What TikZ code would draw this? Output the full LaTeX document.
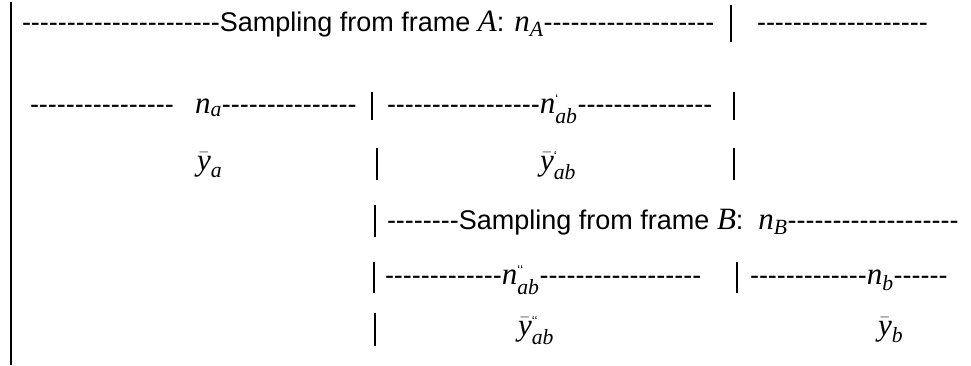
\documentclass[tikz,border=0pt]{standalone}
\usepackage{amsmath}
\usepackage{fontspec}
\setmainfont{Liberation Sans}
\newfontfamily\mvar{Liberation Serif}
\usepackage{tikz}
\usetikzlibrary{positioning}
\newcommand{\hyph}[1]{\foreach\k in {1,...,#1}{-\kern0pt}}
\newcommand{\iv}[1]{\text{\mvar\itshape #1}}
\newcommand{\mth}[1]{{\fontsize{31}{36}\selectfont$#1$}}
\newcommand{\tick}{\mbox{\fontsize{13}{13}\selectfont`}}
\newcommand{\ticks}{\mbox{\fontsize{13}{13}\selectfont`\kern0pt`}}
\tikzset{
  txt/.style={anchor=base west, inner sep=0pt, outer sep=0pt, font=\fontsize{27}{32}\selectfont},
  next/.style={txt, anchor=base west, at={(#1.base east)}},
  sep/.style={line width=1.5pt},
  frame/.style={line width=1.3pt}
}
\begin{document}
\begin{tikzpicture}[x=1pt,y=-1pt]
    \useasboundingbox (0,0) rectangle (971,365);
    % left margin line
    \draw[frame] (11,2) -- (11,365);

    % frame A
    \node[txt] (dA1) at (22,31) {\hyph{22}};
    \node[next=dA1] (sA) {Sampling from frame \mth{\iv{A}}: \mth{\iv{n}_{\iv{A}}}};
    \node[next=sA] (dA2) {\hyph{19}};
    \draw[sep] (731,5) -- (731,42);
    \node[txt] (dA3) at (757,31) {\hyph{19}};

    % n_a and n_ab'
    \node[txt] (da1) at (30,113) {\hyph{16}};
    \node[txt] (na) at (195,113) {\mth{\iv{n}_{\iv{a}}}};
    \node[next=na] (da2) {\hyph{15}};
    \draw[sep] (372,92) -- (372,120);
    \node[txt] (dab1) at (387,113) {\hyph{17}};
    \node[next=dab1] (nab1) {\mth{\iv{n}^{\tick}_{\iv{ab}}}};
    \node[next=nab1] (dab2) {\hyph{15}};
    \draw[sep] (734,92) -- (734,120);

    % means
    \node[txt] (ya) at (197,170) {\mth{\bar{\iv{y}}_{\iv{a}}}};
    \draw[sep] (377,148) -- (377,180);
    \node[txt] (yab1) at (540,170) {\mth{\bar{\iv{y}}^{\tick}_{\iv{ab}}}};
    \draw[sep] (734,148) -- (734,180);

    % frame B
    \draw[sep] (375,205) -- (375,237);
    \node[txt] (dB1) at (387,229) {\hyph{8}};
    \node[next=dB1] (sB) {Sampling from frame \mth{\iv{B}}:\ \ \mth{\iv{n}_{\iv{B}}}};
    \node[next=sB] (dB2) {\hyph{19}};

    % n_ab'' and n_b
    \draw[sep] (374,262) -- (374,293);
    \node[txt] (dab3) at (385,284) {\hyph{13}};
    \node[next=dab3] (nab2) {\mth{\iv{n}^{\ticks}_{\iv{ab}}}};
    \node[next=nab2] (dab4) {\hyph{18}};
    \draw[sep] (737,262) -- (737,293);
    \node[txt] (db1) at (750,284) {\hyph{13}};
    \node[next=db1] (nb) {\mth{\iv{n}_{\iv{b}}}};
    \node[next=nb] (db2) {\hyph{6}};

    % means
    \draw[sep] (375,313) -- (375,346);
    \node[txt] (yab2) at (518,335) {\mth{\bar{\iv{y}}^{\ticks}_{\iv{ab}}}};
    \node[txt] (yb) at (878,335) {\mth{\bar{\iv{y}}_{\iv{b}}}};
\end{tikzpicture}
\end{document}
